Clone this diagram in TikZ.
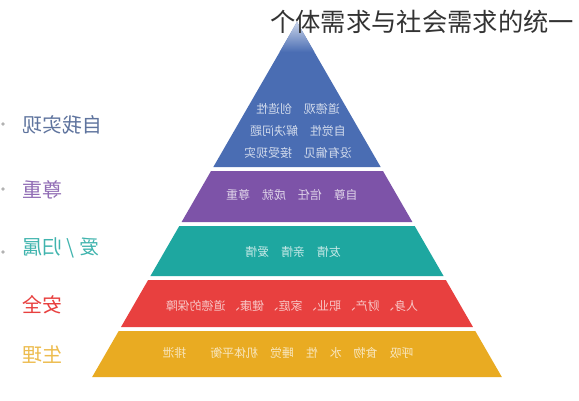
\documentclass[tikz,border=0pt]{standalone}
\usepackage{fontspec}
\newfontfamily\cjk{Noto Sans CJK SC}
\usetikzlibrary{positioning}
\definecolor{bluelevel}{HTML}{4A6DB3}
\definecolor{purplelevel}{HTML}{7D53A8}
\definecolor{teallevel}{HTML}{1EA7A0}
\definecolor{redlevel}{HTML}{E8403F}
\definecolor{yellowlevel}{HTML}{E9AB22}

\begin{document}
\begin{tikzpicture}[
      x=0.02cm, y=-0.02cm,
      every node/.style={inner sep=0pt, font=\cjk},
      band text/.style={
        xscale=-1,
        font=\cjk\fontsize{6.8}{12.5}\selectfont,
        align=center
      },
      side label/.style={
        xscale=-1,
        anchor=east,
        font=\cjk\fontsize{11.4}{13}\selectfont
      },
      side dot/.style={circle, fill=gray!60, minimum size=2.2pt},
  ]
        \clip (0,0) rectangle (579,400);
        \fill[white] (0,0) rectangle (579,400);

        % levels of the pyramid: top row / bottom row / colour
        \foreach \ytop/\ybot/\col in {22/167/bluelevel, 171/222/purplelevel,
            226/276/teallevel, 280/327/redlevel, 331/377/yellowlevel}
          \fill[\col] ({297-0.577*(\ytop-22)},\ytop) -- ({297+0.577*(\ytop-22)},\ytop)
            -- ({297+0.577*(\ybot-22)},\ybot) -- ({297-0.577*(\ybot-22)},\ybot) -- cycle;
        \shade[top color=bluelevel!30!white, bottom color=bluelevel]
          (297,22) -- (314.3,52) -- (279.7,52) -- cycle;

        % 1. 自我实现
        \node[band text, text=bluelevel!25!white] (selftext) at (298,131)
          {道德观\quad 创造性\\自觉性\quad 解决问题\\没有偏见\quad 接受现实};
        % 2. 尊重
        \node[band text, text=purplelevel!25!white] (esteemtext) at (292,195)
          {自尊\quad 信任\quad 成就\quad 尊重};
        % 3. 爱 / 归属
        \node[band text, text=teallevel!25!white] (lovetext) at (293,252)
          {友情\quad 亲情\quad 爱情};
        % 4. 安全
        \node[band text, text=redlevel!30!white] (safetext) at (292,306)
          {人身、 财产、 职业、 家庭、 健康、 道德的保障};
        % 5. 生理
        \node[band text, text=yellowlevel!30!white] (bodytext) at (288,353)
          {呼吸\quad 食物\quad 水\quad 性\quad 睡觉\quad 机体平衡\qquad 排泄};

        % labels on the left
        \node[side dot] (dotself) at (3,124) {};
        \node[side dot] (dotesteem) at (3,189) {};
        \node[side dot] (dotlove) at (3,252) {};
        \node[side label, text=bluelevel!60!gray] (selflabel) at (22,125) {自我实现};
        \node[side label, text=purplelevel!85!white] (esteemlabel) at (22,190) {尊重};
        \node[side label, text=teallevel!85!white] (lovelabel) at (22,248) {爱 / 归属};
        \node[side label, text=redlevel] (safelabel) at (22,305) {安全};
        \node[side label, text=yellowlevel!80!white] (bodylabel) at (22,355) {生理};

        \node[anchor=west, text=black!80, font=\cjk\fontsize{14.4}{16}\selectfont]
          (title) at (270,22) {个体需求与社会需求的统一};
  \end{tikzpicture}
\end{document}
